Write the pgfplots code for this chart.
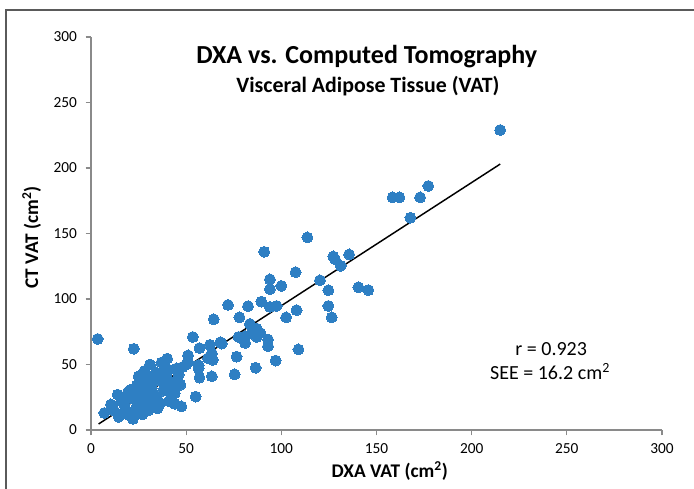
\documentclass[border=0pt]{standalone}
\usepackage{fontspec}
\setmainfont{Carlito}
\usepackage{pgfplots}
\pgfplotsset{compat=1.18}
\definecolor{ptblue}{HTML}{2E7FC3}
\definecolor{axgray}{HTML}{8A8A8A}
\definecolor{framegray}{HTML}{5A5A5A}
\begin{document}
\begin{tikzpicture}
\useasboundingbox (0,0) rectangle (520.5pt,366.75pt);
\draw[framegray, line width=1.2pt] (4.5pt,0pt) -- (4.5pt,359.25pt) -- (520.5pt,359.25pt);
\begin{axis}[
  at={(68.25pt,44.25pt)}, anchor=south west,
  scale only axis, width=428.25pt, height=294.75pt,
  xmin=0, xmax=300, ymin=0, ymax=300,
  xtick={0,50,...,300}, ytick={0,50,...,300},
  axis lines=left, axis line style={axgray, line width=0.8pt, -},
  tick style={axgray, line width=0.8pt}, tick align=outside,
  major tick length=4pt,
  /pgf/number format/assume math mode=true,
  ticklabel style={font=\fontsize{11.5}{13}\selectfont, text=black},
  xticklabel style={yshift=-3pt},
  yticklabel style={xshift=-3pt},
  xlabel={\bfseries DXA VAT (cm\textsuperscript{2})},
  ylabel={\bfseries CT VAT (cm\textsuperscript{2})},
  label style={font=\fontsize{14.5}{16}\selectfont},
  xlabel style={at={(axis cs:157,0)}, anchor=north, yshift=-20pt},
  ylabel style={at={(axis cs:0,147)}, anchor=south, yshift=34pt},
  clip=false,
]
\addplot[only marks, mark=*, mark size=4.1pt, ptblue, mark options={fill=ptblue, draw=ptblue, line width=0pt}] coordinates {
(3.5,69.5)(22.5,62)(7,13)(10.5,19.5)(14,27)(14.5,10)(17.5,19)(19.5,29)(20.5,30.5)(22,8.5)
(22,14)(24,18)(25,41)(25,22)(27,37)(28,45)(28,25)(29,33)(30,15)(31,50)
(31,20)(32,32)(33,26)(34,44)(35,16.5)(36,38)(37,51.5)(38,30)(39,33)(40,54.5)
(40,40)(41,22)(42,24)(43,36)(44,28)(45,47)(45.5,38)(46,42)(47,34.5)(47.5,18)
(12,15)(16,12)(18,16)(20,24)(23,27)(26,30)(30,35)(35,23)(38,45)(42,30)
(27,12)(33,40)(16,22)(19,12)(24,34)(26,19)(29,39)(32,28)(36,20)(41,46)
(44,20)(48,48)(50,50)
(51,57)(51,52)(53.5,71)(55,25.5)(56.5,47)(56.5,49.5)(57,62.5)(57,40)(61.5,54.7)(62.5,65)
(63.5,58.5)(63.5,41)(64,53.5)(64.5,84.5)(68,67)(68.7,66)(72,95.5)(75.5,42.5)(76.5,56)(78,86)
(77.5,71)(81,71.5)(81,66.5)(82.5,94.5)(83.5,81)(84.5,74)(86.5,47.5)(87,77.5)(87,71)(89,74)
(89.5,98)(91,136)(93,69)(93,64)(94,115)(94,107.5)(94,94)(97.5,94.7)(97,53)(100,110)
(102.5,86)(107.5,120.5)(108,91.5)(109,61.5)
(113.7,147)(120.3,114.3)(124.7,106.7)(124.7,94.7)(126.5,86)(127.3,132.5)(128.2,130.3)(131.2,125.3)(135.6,134)(140.5,109)
(145.7,106.8)(158.5,177.6)(162,177.6)(167.8,162)(172.9,177.6)(177.2,186.3)(215,229)
};
\addplot[black, line width=1.1pt, no marks] coordinates {(4,4.6)(215,203)};
\node[font=\fontsize{19.5}{22}\selectfont\bfseries] at (rel axis cs:0.483,0.949) {DXA vs. Computed Tomography};
\node[font=\fontsize{16.4}{18}\selectfont\bfseries] at (rel axis cs:0.485,0.875) {Visceral Adipose Tissue (VAT)};
\node[font=\fontsize{15}{17}\selectfont] at (rel axis cs:0.806,0.206) {r = 0.923};
\node[font=\fontsize{15}{17}\selectfont] at (rel axis cs:0.804,0.148) {SEE = 16.2 cm\textsuperscript{2}};
\end{axis}
\end{tikzpicture}
\end{document}
